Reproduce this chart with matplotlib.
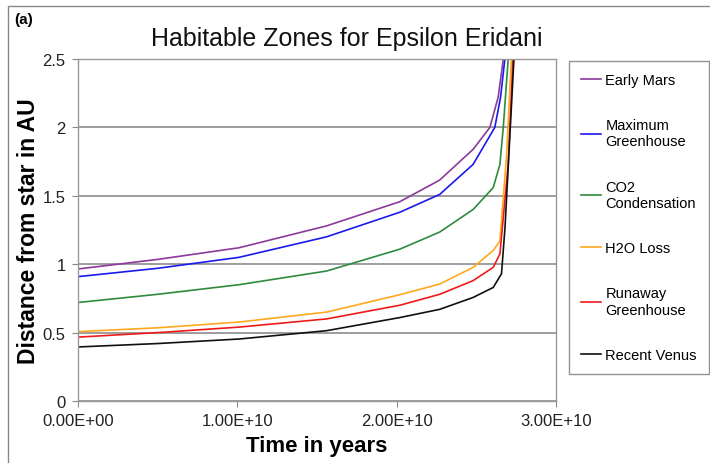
import matplotlib.pyplot as plt
from matplotlib.patches import Rectangle

plt.rcParams['font.family'] = ['Liberation Sans', 'DejaVu Sans']

# time in units of 1e10 years, distance in AU
t_mars = [0, 0.5, 1.01, 1.56, 2.02, 2.27, 2.48, 2.585, 2.637, 2.669, 2.69]
d_mars = [0.965, 1.035, 1.12, 1.28, 1.457, 1.615, 1.84, 2.0, 2.22, 2.5, 2.8]

t_maxgh = [0, 0.5, 1.01, 1.56, 2.02, 2.27, 2.48, 2.616, 2.652, 2.679, 2.70]
d_maxgh = [0.909, 0.97, 1.05, 1.20, 1.38, 1.51, 1.73, 2.0, 2.22, 2.5, 2.8]

t_co2 = [0, 0.5, 1.01, 1.56, 2.02, 2.27, 2.48, 2.606, 2.648, 2.669, 2.70, 2.72]
d_co2 = [0.72, 0.78, 0.85, 0.95, 1.11, 1.235, 1.40, 1.56, 1.73, 2.0, 2.5, 2.8]

t_h2o = [0, 0.5, 1.01, 1.56, 2.02, 2.27, 2.48, 2.606, 2.648, 2.69, 2.72, 2.74]
d_h2o = [0.507, 0.535, 0.577, 0.65, 0.777, 0.855, 0.977, 1.10, 1.17, 1.8, 2.5, 2.8]

t_run = [0, 0.5, 1.01, 1.56, 2.02, 2.27, 2.48, 2.606, 2.648, 2.70, 2.73, 2.75]
d_run = [0.467, 0.50, 0.54, 0.60, 0.70, 0.78, 0.88, 0.977, 1.075, 1.73, 2.5, 2.8]

t_venus = [0, 0.5, 1.01, 1.56, 2.02, 2.27, 2.48, 2.606, 2.658, 2.68, 2.736, 2.76]
d_venus = [0.395, 0.42, 0.453, 0.514, 0.61, 0.67, 0.757, 0.83, 0.93, 1.27, 2.5, 2.8]

series = [
    ("Early Mars", t_mars, d_mars, "#8b3a9a"),
    ("Maximum\nGreenhouse", t_maxgh, d_maxgh, "#1a1aee"),
    ("CO2\nCondensation", t_co2, d_co2, "#2e8b3e"),
    ("H2O Loss", t_h2o, d_h2o, "#ffa820"),
    ("Runaway\nGreenhouse", t_run, d_run, "#ee1a1a"),
    ("Recent Venus", t_venus, d_venus, "#111111"),
]

x_ticks = [0, 1e10, 2e10, 3e10]
x_labels = ["0.00E+00", "1.00E+10", "2.00E+10", "3.00E+10"]
y_ticks = [0, 0.5, 1, 1.5, 2, 2.5]
y_labels = ["0", "0.5", "1", "1.5", "2", "2.5"]

fig = plt.figure(figsize=(7.1, 4.64), dpi=100)
ax = fig.add_axes([78/710, 1 - 402/464, (556 - 78)/710, (402 - 60)/464])

for name, t, d, c in series:
    ax.plot([v * 1e10 for v in t], d, color=c, lw=1.2, label=name)

ax.set_xlim(0, 3e10)
ax.set_ylim(0, 2.5)
ax.set_xticks(x_ticks)
ax.set_xticklabels(x_labels, fontsize=12, color="#222222")
ax.set_yticks(y_ticks)
ax.set_yticklabels(y_labels, fontsize=12, color="#222222")
ax.tick_params(direction="out", length=4, color="#888888", pad=5)
ax.grid(axis="y", color="#8c8c8c", lw=1.2)
for s in ax.spines.values():
    s.set_color("#999999")
    s.set_linewidth(1)

ax.set_xlabel("Time in years", fontsize=16, fontweight="bold", labelpad=5)
ax.set_ylabel("Distance from star in AU", fontsize=16.5, fontweight="bold", labelpad=2)
fig.text(347/710, 1 - 39/464, "Habitable Zones for Epsilon Eridani", fontsize=18,
         ha="center", va="center", color="#111111")
fig.text(14/710, 1 - 20/464, "(a)", fontsize=11, fontweight="bold",
         ha="left", va="center")

leg = fig.legend(loc="upper left", bbox_to_anchor=(569/710, 1 - 62/464),
                 borderaxespad=0, fontsize=10.5, frameon=True, fancybox=False,
                 edgecolor="#777777", handlelength=1.4, handletextpad=0.3,
                 labelspacing=2.15, borderpad=0.8)
leg.get_frame().set_linewidth(1)

fig.patches.append(Rectangle((8/710, -0.05), 710, 1 - 7/464 + 0.05,
                             transform=fig.transFigure, fill=False,
                             edgecolor="#888888", lw=1))

fig.savefig("out.png", dpi=100)
